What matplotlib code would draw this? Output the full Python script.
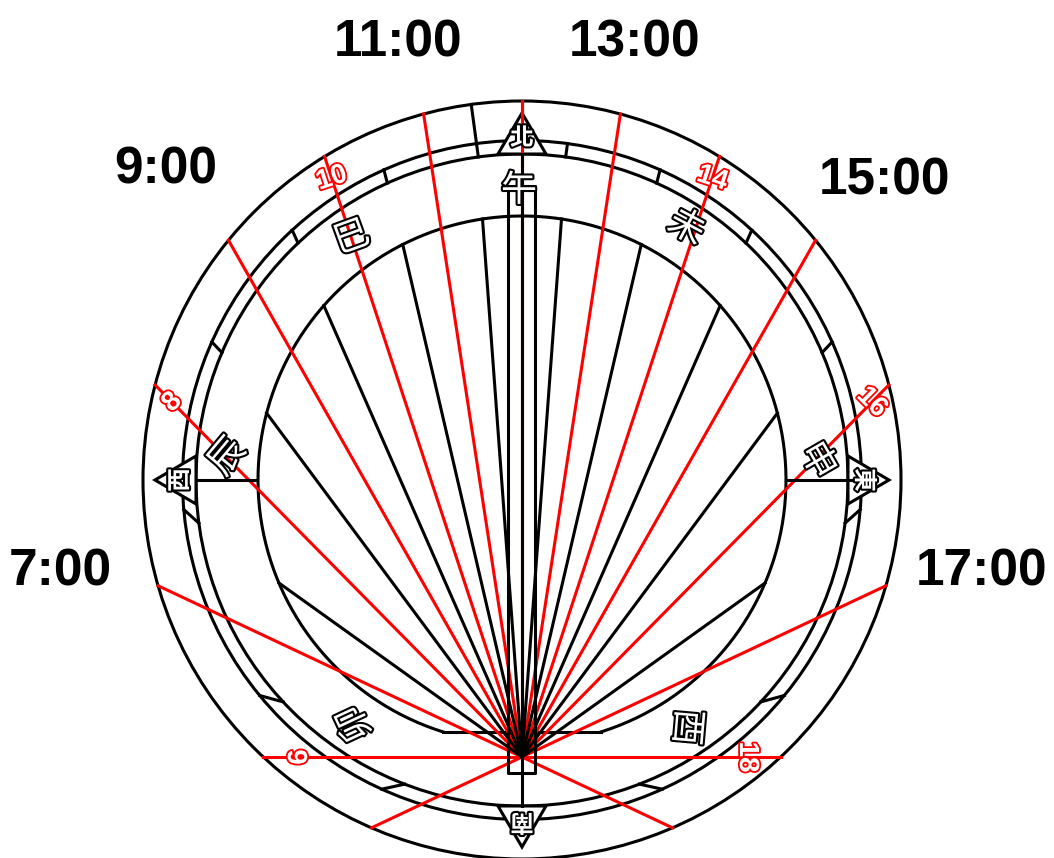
#sundial plate with hour lines and outlined labels

#IMPORT STATEMENTS
import numpy as np
import matplotlib.pyplot as plt
import matplotlib.patheffects as pe
from matplotlib.patches import Circle, Polygon

#DATA (angles in degrees from straight up)
hour_numbers = [6, 8, 10, 14, 16, 18]
hour_angles = [90.0, 64.8, 44.6, 29.6, 18.2, 8.7, 0.0]  #6:00, 7:00 ... 12:00, the afternoon mirrors it
half_hour_angles = [4.2, 13.1, 23.7, 36.6, 54.4]
hour_titles = ['7:00', '9:00', '11:00', '13:00', '15:00', '17:00']
branch_names = ['午', '未', '申', '酉', '卯', '辰', '巳']
branch_angles = [0, -28, -60, -95, 115, 50, 20]
compass_names = ['北', '東', '南', '西']
compass_angles = [0, 90, 180, 270]
tick_outer_angles = [7.7, 24.0, 42.6, 66.0, 95.0, 129.4, 155.6]
tick_inner_angles = [7.7, 24.4, 43.4, 67.0, 97.6, 132.9, 158.9]

#FUNCTIONS
def ray_end(angle, radius):
    #point where a ray from the dial foot meets a circle round the plate centre
    a = np.radians(angle)
    ux, uy = np.sin(a), -np.cos(a)
    ox, oy = fx - cx, fy - cy
    b = ox*ux + oy*uy
    t = -b + np.sqrt(b*b - (ox*ox + oy*oy - radius*radius))
    return fx + t*ux, fy + t*uy

def polar(angle, radius):
    #point on a circle, angle clockwise from straight up
    a = np.radians(angle)
    return cx + radius*np.sin(a), cy - radius*np.cos(a)

def hollow(x, y, s, colour, size, rotation=0, family='Liberation Sans', weight='bold', stroke=2.0):
    #white letters with a coloured edge
    ax.text(x, y, s, color='white', fontsize=size, rotation=rotation, rotation_mode='anchor',
            ha='center', va='center', family=family, fontweight=weight, zorder=6,
            path_effects=[pe.withStroke(linewidth=stroke, foreground=colour)])

# MAIN SCRIPT
fig = plt.figure(figsize=(10.54, 8.58), dpi=100)
ax = fig.add_axes([0, 0, 1, 1])
ax.set_xlim(0, 1054)
ax.set_ylim(858, 0)
ax.axis('off')

cx, cy = 522, 480
fx, fy = 522, 757
r_outer, r_mid, r_in, r_plate = 379, 339.5, 326, 264
chord_y = 732
lw = 2.2

#rings
for r in [r_outer, r_mid, r_in]:
    ax.add_patch(Circle((cx, cy), r, fill=False, ec='black', lw=lw, zorder=1))

#inner plate, circle cut off by a flat chord at the bottom
start = np.arcsin((chord_y - cy)/r_plate)
t = np.linspace(np.pi - start, 2*np.pi + start, 500)
ax.plot(cx + r_plate*np.cos(t), cy + r_plate*np.sin(t), 'k', lw=lw, zorder=1)
ax.plot([cx - r_plate*np.cos(start), cx + r_plate*np.cos(start)], [chord_y, chord_y], 'k', lw=lw, zorder=1)

#ticks in the ring, both sides
for a_out, a_in in zip(tick_outer_angles, tick_inner_angles):
    for side in [-1, 1]:
        p = polar(side*a_out, r_mid)
        q = polar(side*a_in, r_in)
        ax.plot([p[0], q[0]], [p[1], q[1]], 'k', lw=lw, zorder=1)
#one tick on the left runs out to the rim
p = polar(-tick_outer_angles[0], r_outer)
q = polar(-tick_outer_angles[0], r_mid)
ax.plot([p[0], q[0]], [p[1], q[1]], 'k', lw=lw, zorder=1)

#compass triangles
for a, name in zip(compass_angles, compass_names):
    apex = polar(a, 367)
    base_mid = np.array(polar(a, r_in))
    along = np.array([np.cos(np.radians(a)), np.sin(np.radians(a))])
    ax.add_patch(Polygon([apex, base_mid - 24*along, base_mid + 24*along], closed=True,
                         fc='white', ec='black', lw=lw, joinstyle='miter', zorder=2))
    x, y = polar(a, 342)
    hollow(x, y, name, 'black', 17, -a, 'Noto Sans CJK TC', 'bold', 3.0)

#red hour lines
for a in hour_angles:
    for side in [-1, 1]:
        x, y = ray_end(side*a, r_outer)
        ax.plot([fx, x], [fy, y], color='red', lw=lw, zorder=3)
#7:00 and 17:00 carry on past the foot
for side in [-1, 1]:
    x, y = ray_end(180 + side*hour_angles[1], r_outer)
    ax.plot([fx, x], [fy, y], color='red', lw=lw, zorder=3)

#black half hour lines
for a in half_hour_angles:
    for side in [-1, 1]:
        x, y = ray_end(side*a, r_plate)
        ax.plot([fx, x], [fy, y], 'k', lw=lw, zorder=4)

#gnomon box and centre line
ax.plot([508, 508, 535, 535, 508], [186, 773, 773, 186, 186], 'k', lw=lw, zorder=4)
ax.plot([cx, cx], [cy - r_in, cy + r_in], 'k', lw=lw, zorder=4)

#short arms out to east and west
ax.plot([197, 257], [cy, cy], 'k', lw=lw, zorder=4)
ax.plot([787, 868], [cy, cy], 'k', lw=lw, zorder=4)

#red hour numbers sit on their lines
number_angles = [90.0, 44.6, 18.2, -18.2, -44.6, -90.0]
number_dists = [222, 498, 609, 609, 498, 225]
for n, a, d in zip(hour_numbers, number_angles, number_dists):
    x = fx - d*np.sin(np.radians(a))
    y = fy - d*np.cos(np.radians(a))
    hollow(x, y, str(n), 'red', 20, a, stroke=2.6)

#branch characters
branch_x = [519, 686, 817, 686, 355, 228, 352]
branch_y = [191, 228, 461, 727, 723, 457, 238]
for x, y, s, a in zip(branch_x, branch_y, branch_names, branch_angles):
    hollow(x, y, s, 'black', 26, a, 'Noto Sans CJK TC', 'normal', 3.0)

#big time titles
title_x = [60, 166, 398, 635, 884, 982]
title_y = [572, 170, 43, 43, 181, 572]
for x, y, s in zip(title_x, title_y, hour_titles):
    ax.text(x, y, s, color='black', fontsize=37, ha='center', va='center',
            family='Liberation Sans', fontweight='bold')

fig.savefig('out.png', dpi=100)
